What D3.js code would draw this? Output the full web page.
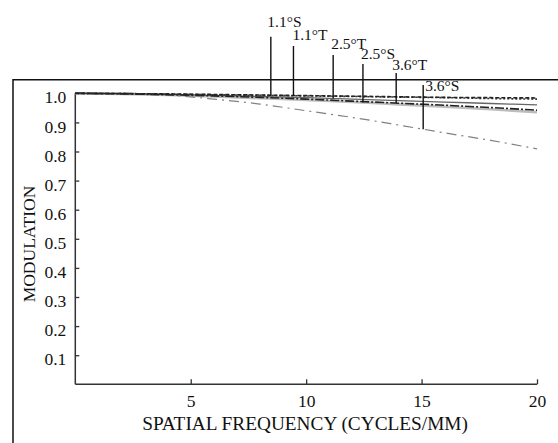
<!DOCTYPE html>
<html><head><meta charset="utf-8">
<script src="https://cdn.jsdelivr.net/npm/d3@7"></script>
<style>body{margin:0;background:#fff}svg{display:block}text{font-family:"Liberation Serif","Times New Roman",serif;fill:#111}</style>
</head><body><svg id="c" width="558" height="443"></svg>
<script>
// Data
const freqs = [0, 2, 4, 6, 8, 10, 12, 14, 16, 18, 20];
const s11S = [1, 0.999, 0.998, 0.996, 0.994, 0.992, 0.990, 0.988, 0.986, 0.985, 0.984];
const s11T = [1, 0.999, 0.997, 0.995, 0.993, 0.991, 0.989, 0.987, 0.985, 0.982, 0.980];
const s25T = [1, 0.999, 0.996, 0.993, 0.989, 0.985, 0.980, 0.975, 0.970, 0.965, 0.960];
const s25S = [1, 0.998, 0.994, 0.989, 0.983, 0.977, 0.970, 0.962, 0.954, 0.945, 0.935];
const s36T = [1, 0.998, 0.995, 0.991, 0.986, 0.980, 0.973, 0.966, 0.959, 0.951, 0.942];
const s36S = [1, 1.0, 0.994, 0.980, 0.963, 0.940, 0.917, 0.891, 0.864, 0.838, 0.809];
const seriesNames = ["1.1°S", "1.1°T", "2.5°T", "2.5°S", "3.6°T", "3.6°S"];
const seriesValues = [s11S, s11T, s25T, s25S, s36T, s36S];
const labelFreqs = [8.47, 9.45, 11.17, 12.46, 13.9, 15.07];
const xTicks = [5, 10, 15, 20];
const yTicks = [0.1, 0.2, 0.3, 0.4, 0.5, 0.6, 0.7, 0.8, 0.9, 1.0];

// Styles (layout)
const styles = [
  {stroke: "#222", width: 1.6, dash: "4,2"},
  {stroke: "#333", width: 1.6, dash: "2,2"},
  {stroke: "#666", width: 1.3, dash: null},
  {stroke: "#bdbdbd", width: 2.6, dash: null},
  {stroke: "#222", width: 1.6, dash: "9,2,2,2"},
  {stroke: "#808080", width: 1.2, dash: "10,5,2,5"}
];
const lineTops = [36.7, 46, 55, 64, 73, 85];
const labelBase = [26.5, 40, 48.5, 59, 69.5, 91];
const labelDx = [-3.5, -1, -2, -2, -4, 2];

const svg = d3.select("#c");
const x = d3.scaleLinear().domain([0, 20]).range([75.3, 537]);
const y = d3.scaleLinear().domain([0, 1]).range([384.3, 93.3]);

// outer frame
svg.append("path").attr("d", "M13,443 V79.7 H558").attr("fill", "none").attr("stroke", "#111").attr("stroke-width", 1.5);

// axes
const xAxis = d3.axisBottom(x).tickValues(xTicks).tickSize(-5).tickPadding(10).tickFormat(d3.format("d"));
const gx = svg.append("g").attr("transform", `translate(0,${y(0)})`).call(xAxis);
gx.select(".domain").attr("d", `M${x(0)},0H${x(20)}`).attr("stroke", "#333").attr("stroke-width", 1.5);
gx.selectAll(".tick line").attr("stroke", "#333").attr("stroke-width", 1.3);
gx.selectAll(".tick text").attr("font-size", 17.5).attr("font-family", "Liberation Serif").attr("fill", "#111").attr("dy", "0.72em");

const yAxis = d3.axisLeft(y).tickValues(yTicks).tickSize(-4).tickPadding(9).tickFormat(d3.format(".1f"));
const gy = svg.append("g").attr("transform", `translate(${x(0)},0)`).call(yAxis);
gy.select(".domain").attr("d", `M0,${y(0)}V${y(1)}`).attr("stroke", "#333").attr("stroke-width", 1.5);
gy.selectAll(".tick line").attr("stroke", "#333").attr("stroke-width", 1.3);
gy.selectAll(".tick text").attr("font-size", 17.5).attr("font-family", "Liberation Serif").attr("fill", "#111").attr("dy", "0.55em");

// curves
const line = d3.line().x((d, i) => x(freqs[i])).y(d => y(d)).curve(d3.curveMonotoneX);
const order = [3, 2, 5, 4, 1, 0];
order.forEach(k => {
  const st = styles[k];
  svg.append("path").datum(seriesValues[k]).attr("d", line)
    .attr("fill", "none").attr("stroke", st.stroke).attr("stroke-width", st.width)
    .attr("stroke-dasharray", st.dash);
});

function valAt(vals, f) {
  const i = Math.min(Math.floor(f / 2), freqs.length - 2);
  const t = (f - freqs[i]) / (freqs[i + 1] - freqs[i]);
  return vals[i] + t * (vals[i + 1] - vals[i]);
}

// annotations
seriesNames.forEach((name, k) => {
  const fx = x(labelFreqs[k]);
  svg.append("line").attr("x1", fx).attr("x2", fx).attr("y1", lineTops[k]).attr("y2", y(valAt(seriesValues[k], labelFreqs[k])))
    .attr("stroke", "#111").attr("stroke-width", 1.4);
  svg.append("text").attr("x", fx + labelDx[k]).attr("y", labelBase[k]).attr("font-size", 15.5).text(name);
});

// titles
svg.append("text").attr("x", 305).attr("y", 430).attr("text-anchor", "middle").attr("font-size", 19.3).text("SPATIAL FREQUENCY (CYCLES/MM)");
svg.append("text").attr("transform", "translate(35,244) rotate(-90)").attr("text-anchor", "middle").attr("font-size", 17.5).text("MODULATION");
</script></body></html>
